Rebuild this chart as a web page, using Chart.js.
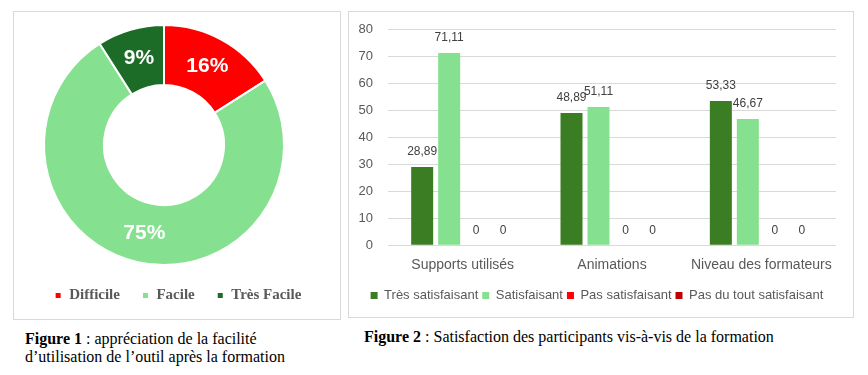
<!DOCTYPE html>
<html lang="fr">
<head>
  <meta charset="UTF-8">
  <title>Facilité d'utilisation et satisfaction</title>
  <script src="https://cdn.jsdelivr.net/npm/chart.js"></script>
  <style>
    body { margin: 0; background: white; font-family: "Liberation Serif", "Times New Roman", serif; }
    .page { position: relative; width: 868px; height: 375px; overflow: hidden; }
    .box { position: absolute; border: 1px solid #d9d9d9; }
    .box canvas { display: block; }
    #boxEase { left: 13px; top: 11px; width: 326px; height: 307px; }
    #boxSatis { left: 348px; top: 11px; width: 504px; height: 305px; }
    .caption { position: absolute; font-size: 16px; line-height: 18px; color: black; white-space: nowrap; }
    #cap1 { left: 25px; top: 330px; }
    #cap2 { left: 364px; top: 328px; }
  </style>
</head>
<body>
<div class="page">
  <div class="box" id="boxEase"><canvas id="easeChart" width="326" height="307"></canvas></div>
  <div class="box" id="boxSatis"><canvas id="satisChart" width="504" height="305"></canvas></div>

  <div class="caption" id="cap1"><b>Figure 1</b> : appréciation de la facilité<br>d’utilisation de l’outil après la formation</div>
  <div class="caption" id="cap2"><b>Figure 2</b> : Satisfaction des participants vis-à-vis de la formation</div>
</div>

<script>
  // Figure 1 - facilité d'utilisation (%)
  const easeLabels = ["Difficile", "Facile", "Très Facile"];
  const easeValues = [16, 75, 9];
  const easeColors = ["#ff0000", "#85e18f", "#1c6b26"];

  // Figure 2 - satisfaction (%)
  const satisCategories = ["Supports utilisés", "Animations", "Niveau des formateurs"];
  const tresSatisfaisant = [28.89, 48.89, 53.33];
  const satisfaisant = [71.11, 51.11, 46.67];
  const pasSatisfaisant = [0, 0, 0];
  const pasDuToutSatisfaisant = [0, 0, 0];

  const sansFont = '"Liberation Sans", Arial, sans-serif';

  // pourcentages blancs au milieu de chaque part
  const ringLabels = {
    id: "ringLabels",
    afterDatasetsDraw(chart) {
      const ctx = chart.ctx;
      ctx.save();
      ctx.font = "bold 21px " + sansFont;
      ctx.fillStyle = "#ffffff";
      ctx.textAlign = "center";
      ctx.textBaseline = "middle";
      chart.getDatasetMeta(0).data.forEach((arc, i) => {
        const p = arc.tooltipPosition();
        ctx.fillText(chart.data.datasets[0].data[i] + "%", p.x, p.y);
      });
      ctx.restore();
    }
  };

  // la légende est un peu à droite de l'anneau dans l'original
  const legendNudge = {
    id: "legendNudge",
    afterLayout(chart) {
      chart.legend.left += 14;
      chart.legend.right += 14;
    }
  };

  new Chart(document.getElementById("easeChart"), {
    type: "doughnut",
    data: {
      labels: easeLabels,
      datasets: [{
        data: easeValues,
        backgroundColor: easeColors,
        borderColor: "#ffffff",
        borderWidth: 2
      }]
    },
    options: {
      responsive: false,
      animation: false,
      cutout: "50%",
      layout: { padding: { left: 0, right: 26, top: 12, bottom: 6 } },
      plugins: {
        tooltip: { enabled: false },
        legend: {
          position: "bottom",
          labels: {
            boxWidth: 7,
            boxHeight: 7,
            padding: 22,
            color: "#595959",
            font: { family: '"Liberation Serif", "Times New Roman", serif', size: 15, weight: "bold" }
          }
        }
      }
    },
    plugins: [ringLabels, legendNudge]
  });

  // valeurs au-dessus des barres, virgule décimale
  const barLabels = {
    id: "barLabels",
    afterDatasetsDraw(chart) {
      const ctx = chart.ctx;
      ctx.save();
      ctx.font = "12px " + sansFont;
      ctx.fillStyle = "#404040";
      ctx.textAlign = "center";
      ctx.textBaseline = "middle";
      chart.data.datasets.forEach((ds, i) => {
        chart.getDatasetMeta(i).data.forEach((bar, j) => {
          ctx.fillText(String(ds.data[j]).replace(".", ","), bar.x, bar.y - 15);
        });
      });
      ctx.restore();
    }
  };

  new Chart(document.getElementById("satisChart"), {
    type: "bar",
    data: {
      labels: satisCategories,
      datasets: [
        { label: "Très satisfaisant", data: tresSatisfaisant, backgroundColor: "#3a7d22" },
        { label: "Satisfaisant", data: satisfaisant, backgroundColor: "#85e18f" },
        { label: "Pas satisfaisant", data: pasSatisfaisant, backgroundColor: "#ff0000" },
        { label: "Pas du tout satisfaisant", data: pasDuToutSatisfaisant, backgroundColor: "#c00000" }
      ]
    },
    options: {
      responsive: false,
      animation: false,
      barPercentage: 0.815,
      categoryPercentage: 0.723,
      layout: { padding: { left: 9, right: 17, top: 9, bottom: 5 } },
      scales: {
        x: {
          grid: { display: false },
          border: { display: false },
          ticks: {
            color: "#595959",
            padding: 4,
            maxRotation: 0,
            minRotation: 0,
            autoSkip: false,
            font: { family: sansFont, size: 14 }
          },
          afterFit: (scale) => { scale.height += 7; }
        },
        y: {
          min: 0,
          max: 80,
          grid: { color: "#d9d9d9", drawTicks: false },
          border: { display: false },
          ticks: { stepSize: 10, color: "#595959", padding: 15, font: { family: sansFont, size: 13 } },
          // largeur et marge haute fixées comme dans l'original
          afterFit: (scale) => {
            scale.paddingTop = 17;
            scale.width = 30;
          }
        }
      },
      plugins: {
        tooltip: { enabled: false },
        legend: {
          position: "bottom",
          labels: {
            boxWidth: 7,
            boxHeight: 7,
            padding: 4,
            color: "#595959",
            font: { family: sansFont, size: 13 }
          }
        }
      }
    },
    plugins: [barLabels]
  });
</script>
</body>
</html>
